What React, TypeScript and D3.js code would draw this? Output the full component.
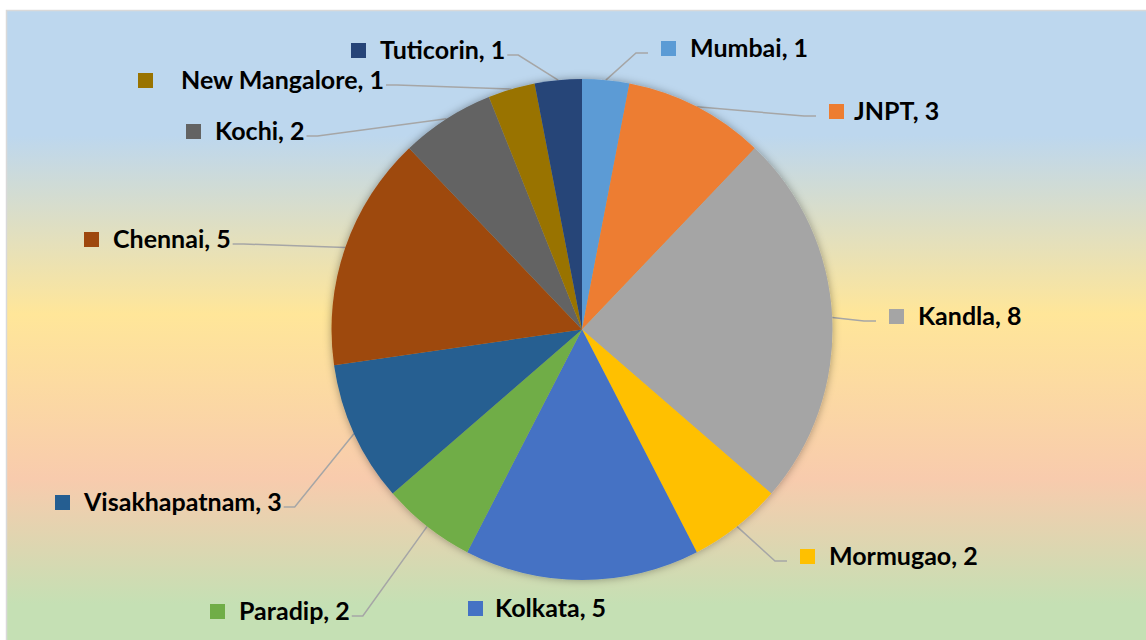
import React, { useEffect, useRef } from 'react';
import * as d3 from 'd3';

// ports and number of entries
const ports = ['Mumbai', 'JNPT', 'Kandla', 'Mormugao', 'Kolkata', 'Paradip', 'Visakhapatnam', 'Chennai', 'Kochi', 'New Mangalore', 'Tuticorin'];
const counts = [1, 3, 8, 2, 5, 2, 3, 5, 2, 1, 1];
const colors = ['#5B9BD5', '#ED7D31', '#A5A5A5', '#FFC000', '#4472C4', '#70AD47', '#255E91', '#9E480E', '#636363', '#997300', '#264478'];

// label placement (marker left x, text baseline y, which side the leader attaches)
const labelX = [661, 829, 889, 800, 468, 210, 55, 84, 186, 138, 351];
const labelY = [57, 120, 325, 565, 617, 620, 511, 248, 140, 89, 59];
const textGap = [29, 25, 29, 29, 27, 29, 29, 29, 29, 43, 29];
const leaderSide = ['right', 'right', 'right', 'right', 'none', 'left', 'left', 'left', 'left', 'left', 'left'];

const width = 1146;
const height = 640;
const cx = 582;
const cy = 329.5;
const radius = 250.5;

const App = () => {
  const ref = useRef<SVGSVGElement>(null);

  useEffect(() => {
    const svg = d3.select(ref.current);
    svg.selectAll('*').remove();

    const defs = svg.append('defs');
    const grad = defs.append('linearGradient').attr('id', 'bg').attr('x1', 0).attr('y1', 0).attr('x2', 0).attr('y2', 1);
    [[0, '#BDD7EE'], [0.19, '#BDD7EE'], [0.46, '#FFE699'], [0.71, '#F8CBAD'], [0.9, '#C5E0B4'], [1, '#C5E0B4']].forEach(([o, c]) => {
      grad.append('stop').attr('offset', o as number).attr('stop-color', c as string);
    });
    const shadow = defs.append('filter').attr('id', 'soft').attr('x', '-10%').attr('y', '-10%').attr('width', '120%').attr('height', '120%');
    shadow.append('feGaussianBlur').attr('in', 'SourceAlpha').attr('stdDeviation', 4).attr('result', 'b');
    shadow.append('feFlood').attr('flood-color', '#000').attr('flood-opacity', 0.35);
    shadow.append('feComposite').attr('in2', 'b').attr('operator', 'in').attr('result', 's');
    const merge = shadow.append('feMerge');
    merge.append('feMergeNode').attr('in', 's');
    merge.append('feMergeNode').attr('in', 'SourceGraphic');

    svg.append('rect')
      .attr('x', 6.5).attr('y', 10.5)
      .attr('width', 1160).attr('height', 660)
      .attr('fill', 'url(#bg)')
      .attr('stroke', '#D9D9D9').attr('stroke-width', 1.5);

    const pie = d3.pie<number>().sort(null).value((d) => d);
    const arcs = pie(counts);
    const arc = d3.arc<d3.PieArcDatum<number>>().innerRadius(0).outerRadius(radius);

    svg.append('g')
      .attr('transform', `translate(${cx},${cy})`)
      .attr('filter', 'url(#soft)')
      .selectAll('path')
      .data(arcs)
      .join('path')
      .attr('d', arc)
      .attr('fill', (_, i) => colors[i]);

    const labels = svg.append('g')
      .style('font-family', 'Lato, "Open Sans", sans-serif')
      .style('font-weight', 'bold')
      .style('font-size', '25px');

    arcs.forEach((a, i) => {
      const mid = (a.startAngle + a.endAngle) / 2;
      const sx = cx + radius * Math.sin(mid);
      const sy = cy - radius * Math.cos(mid);
      const g = labels.append('g');
      g.append('rect')
        .attr('x', labelX[i]).attr('y', labelY[i] - 16)
        .attr('width', 15).attr('height', 15)
        .attr('fill', colors[i]);
      const t = g.append('text')
        .attr('x', labelX[i] + textGap[i]).attr('y', labelY[i])
        .attr('fill', '#000')
        .text(`${ports[i]}, ${counts[i]}`);
      const tw = (t.node() as SVGTextElement).getComputedTextLength();
      const ly = labelY[i] - 4;
      let pts: [number, number][] = [];
      if (leaderSide[i] === 'right') {
        const ex = labelX[i] - 13;
        pts = [[sx, sy], [ex - 12, ly], [ex, ly]];
      } else if (leaderSide[i] === 'left') {
        const ex = labelX[i] + textGap[i] + tw + 2;
        pts = [[sx, sy], [ex + 11, ly], [ex, ly]];
      }
      if (pts.length) {
        svg.insert('path', 'g')
          .attr('d', d3.line()(pts))
          .attr('fill', 'none')
          .attr('stroke', '#A6A6A6')
          .attr('stroke-width', 1.5);
      }
    });
  }, []);

  return (
    <svg ref={ref} width={width} height={height} style={{ position: 'absolute', left: 0, top: 0, display: 'block' }} />
  );
};

export default App;
